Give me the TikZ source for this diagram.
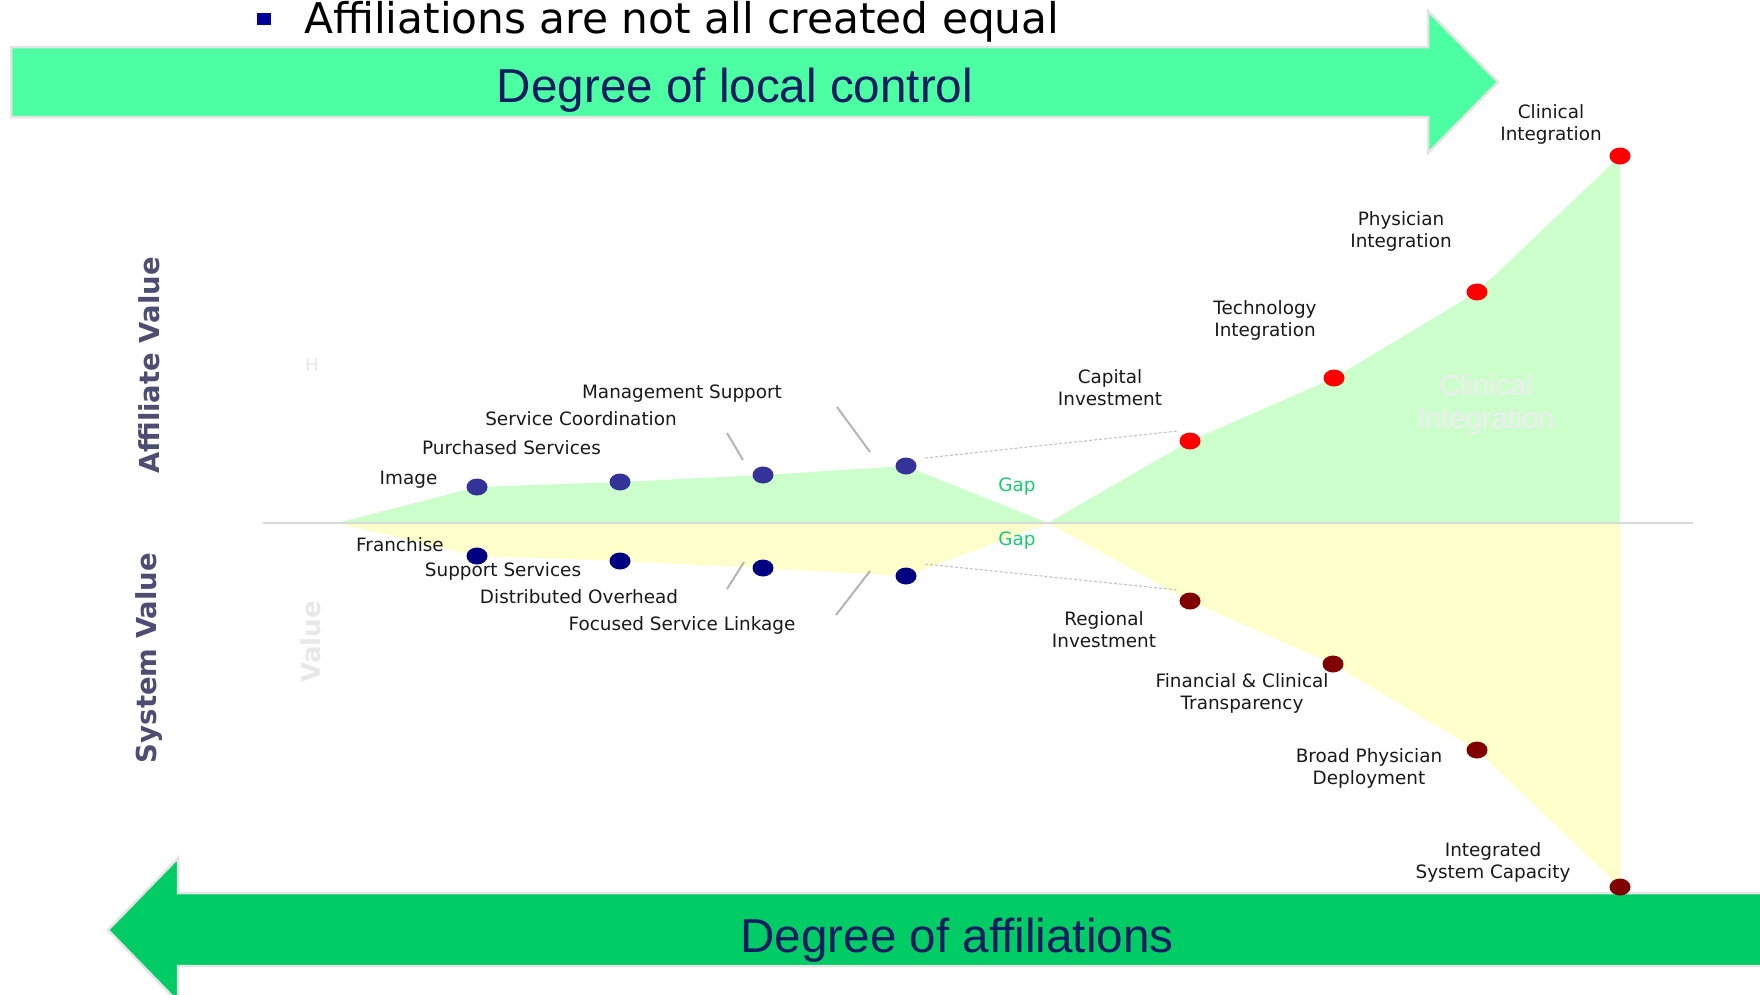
\documentclass[tikz,border=0pt]{standalone}
\usepackage{fontspec}
\setmainfont{DejaVu Sans}
\newfontfamily\arialfont{Liberation Sans}
\usetikzlibrary{shapes.geometric}

\definecolor{topgreen}{RGB}{75,255,162}
\definecolor{botgreen}{RGB}{0,204,102}
\definecolor{rim}{RGB}{228,228,228}
\definecolor{navytext}{RGB}{12,28,96}
\definecolor{upfill}{RGB}{204,255,204}
\definecolor{lowfill}{RGB}{255,255,204}
\definecolor{axisgray}{RGB}{217,217,217}
\definecolor{tickgray}{RGB}{180,180,180}
\definecolor{dashgray}{RGB}{195,195,195}
\definecolor{bluept}{RGB}{51,51,153}
\definecolor{navypt}{RGB}{0,0,128}
\definecolor{redpt}{RGB}{255,0,0}
\definecolor{maroonpt}{RGB}{128,0,0}
\definecolor{labelc}{RGB}{25,25,25}
\definecolor{gapc}{RGB}{22,204,112}
\definecolor{sidec}{RGB}{77,77,115}
\definecolor{faintc}{RGB}{232,232,232}
\definecolor{ghostc}{RGB}{240,234,242}
\definecolor{bulletc}{RGB}{0,0,153}

\tikzset{
  ptbase/.style={ellipse, minimum width=21pt, minimum height=17pt, inner sep=0pt},
  bluedot/.style={ptbase, fill=bluept},
  navydot/.style={ptbase, fill=navypt},
  reddot/.style={ptbase, fill=redpt},
  maroondot/.style={ptbase, fill=maroonpt},
  lbl/.style={font=\fontsize{18.4}{22}\selectfont, text=labelc, inner sep=0pt,
              text height=15pt, text depth=3pt},
  lbltwo/.style={font=\fontsize{18.4}{22}\selectfont, text=labelc, inner sep=0pt, align=center},
  gaplbl/.style={lbl, text=gapc},
  sidelbl/.style={font=\fontsize{27.5}{33}\selectfont\bfseries, text=sidec, rotate=90, inner sep=0pt},
  bigarrow/.style={draw=rim, line width=2.5pt, line join=miter},
  arrowtext/.style={font=\arialfont\fontsize{47.6}{56}\selectfont, text=navytext, inner sep=0pt, anchor=base},
  tickline/.style={draw=tickgray, line width=2pt},
  dashline/.style={draw=dashgray, line width=1.1pt, dash pattern=on 3pt off 2pt},
}

\begin{document}
\begin{tikzpicture}[x=1pt,y=-1pt]
\useasboundingbox (0,0) rectangle (1760,994);
\clip (0,0) rectangle (1760,994);

% heading with its square bullet
\fill[bulletc] (257,13) rectangle (271,25);
\node[anchor=base west, inner sep=0pt, font=\fontsize{42.3}{50}\selectfont, text=black]
  (title) at (304,33) {Affiliations are not all created equal};

% top arrow: degree of local control
\path[bigarrow, fill=topgreen] (11,47) -- (1428,47) -- (1428,11) -- (1498,82)
  -- (1428,153) -- (1428,117) -- (11,117) -- cycle;
\node[arrowtext] (local) at (735,102) {Degree of local control};

% bottom arrow: degree of affiliations
\path[bigarrow, fill=botgreen] (1775,893) -- (178,893) -- (178,858) -- (108,930)
  -- (178,1002) -- (178,966) -- (1775,966) -- cycle;
\node[arrowtext] (affil) at (957,952) {Degree of affiliations};

% points on the two value curves
\coordinate (o) at (337,523);
\coordinate (x) at (1048,523);
\coordinate (ax0) at (263,523);
\coordinate (ax1) at (1693,523);

\coordinate (pu1) at (477,487);
\coordinate (pu2) at (620,482);
\coordinate (pu3) at (763,475);
\coordinate (pu4) at (906,466);
\coordinate (pl1) at (477,556);
\coordinate (pl2) at (620,561);
\coordinate (pl3) at (763,568);
\coordinate (pl4) at (906,576);
\coordinate (pr1) at (1190,441);
\coordinate (pr2) at (1334,378);
\coordinate (pr3) at (1477,292);
\coordinate (pr4) at (1620,156);
\coordinate (pm1) at (1190,601);
\coordinate (pm2) at (1333,664);
\coordinate (pm3) at (1477,750);
\coordinate (pm4) at (1620,887);

% shaded areas
\fill[upfill] (o) -- (pu1) -- (pu2) -- (pu3) -- (pu4) -- (x) -- cycle;
\fill[upfill] (x) -- (pr1) -- (pr2) -- (pr3) -- (pr4) -- (pr4 |- x) -- cycle;
\fill[lowfill] (o) -- (pl1) -- (pl2) -- (pl3) -- (pl4) -- (x) -- cycle;
\fill[lowfill] (x) -- (pm1) -- (pm2) -- (pm3) -- (pm4) -- (pm4 |- x) -- cycle;

% horizontal axis
\draw[draw=axisgray, line width=2pt] (ax0) -- (ax1);

% dashed guides across the gap
\coordinate (gu0) at (925,458);
\coordinate (gu1) at (1178,431);
\coordinate (gl0) at (925,564);
\coordinate (gl1) at (1178,590);
\draw[dashline] (gu0) -- (gu1);
\draw[dashline] (gl0) -- (gl1);

% short leader strokes
\coordinate (k1a) at (727,433); \coordinate (k1b) at (743,460);
\coordinate (k2a) at (837,407); \coordinate (k2b) at (870,452);
\coordinate (k3a) at (744,562); \coordinate (k3b) at (727,589);
\coordinate (k4a) at (870,571); \coordinate (k4b) at (836,615);
\draw[tickline] (k1a) -- (k1b);
\draw[tickline] (k2a) -- (k2b);
\draw[tickline] (k3a) -- (k3b);
\draw[tickline] (k4a) -- (k4b);

% markers
\node[bluedot] (u1) at (pu1) {};
\node[bluedot] (u2) at (pu2) {};
\node[bluedot] (u3) at (pu3) {};
\node[bluedot] (u4) at (pu4) {};
\node[navydot] (l1) at (pl1) {};
\node[navydot] (l2) at (pl2) {};
\node[navydot] (l3) at (pl3) {};
\node[navydot] (l4) at (pl4) {};
\node[reddot] (r1) at (pr1) {};
\node[reddot] (r2) at (pr2) {};
\node[reddot] (r3) at (pr3) {};
\node[reddot] (r4) at (pr4) {};
\node[maroondot] (m1) at (pm1) {};
\node[maroondot] (m2) at (pm2) {};
\node[maroondot] (m3) at (pm3) {};
\node[maroondot] (m4) at (pm4) {};

% labels of the upper curve
\node[lbl] (tImage) at (408.5,478) {Image};
\node[lbl] (tPurch) at (511.5,448) {Purchased Services};
\node[lbl] (tCoord) at (581,419) {Service Coordination};
\node[lbl] (tMgmt) at (682,392) {Management Support};
\node[lbltwo] (tCap) at (1110,388) {Capital\\Investment};
\node[lbltwo] (tTech) at (1265,320.5) {Technology\\Integration};
\node[lbltwo] (tPhys) at (1401,231.5) {Physician\\Integration};
\node[lbltwo] (tClin) at (1551,124.5) {Clinical\\Integration};

% labels of the lower curve
\node[lbl] (tFran) at (400,545) {Franchise};
\node[lbl] (tSupp) at (503,570) {Support Services};
\node[lbl] (tDist) at (579,597) {Distributed Overhead};
\node[lbl] (tFocus) at (682,624) {Focused Service Linkage};
\node[lbltwo] (tReg) at (1104,629.5) {Regional\\Investment};
\node[lbltwo] (tFin) at (1242,693) {Financial \& Clinical\\Transparency};
\node[lbltwo] (tBroad) at (1369,768) {Broad Physician\\Deployment};
\node[lbltwo] (tInt) at (1493,862.5) {Integrated\\System Capacity};

% gap marks
\node[gaplbl] (gapU) at (1017,485) {Gap};
\node[gaplbl] (gapL) at (1017,539) {Gap};

% axis titles
\node[sidelbl] (sAff) at (149,365.5) {Affiliate Value};
\node[sidelbl] (sSys) at (149,658) {System Value};

% pale lettering
\node[font=\fontsize{18}{21}\selectfont, text=faintc, inner sep=0pt] (fH) at (312,365) {H};
\node[font=\fontsize{26}{30}\selectfont\bfseries, text=faintc, rotate=90, inner sep=0pt] (fVal) at (311,642) {Value};
\node[font=\arialfont\fontsize{29}{33}\selectfont, text=ghostc, align=center, inner sep=0pt]
  (fClin) at (1486,404.5) {Clinical\\Integration};
\end{tikzpicture}
\end{document}
